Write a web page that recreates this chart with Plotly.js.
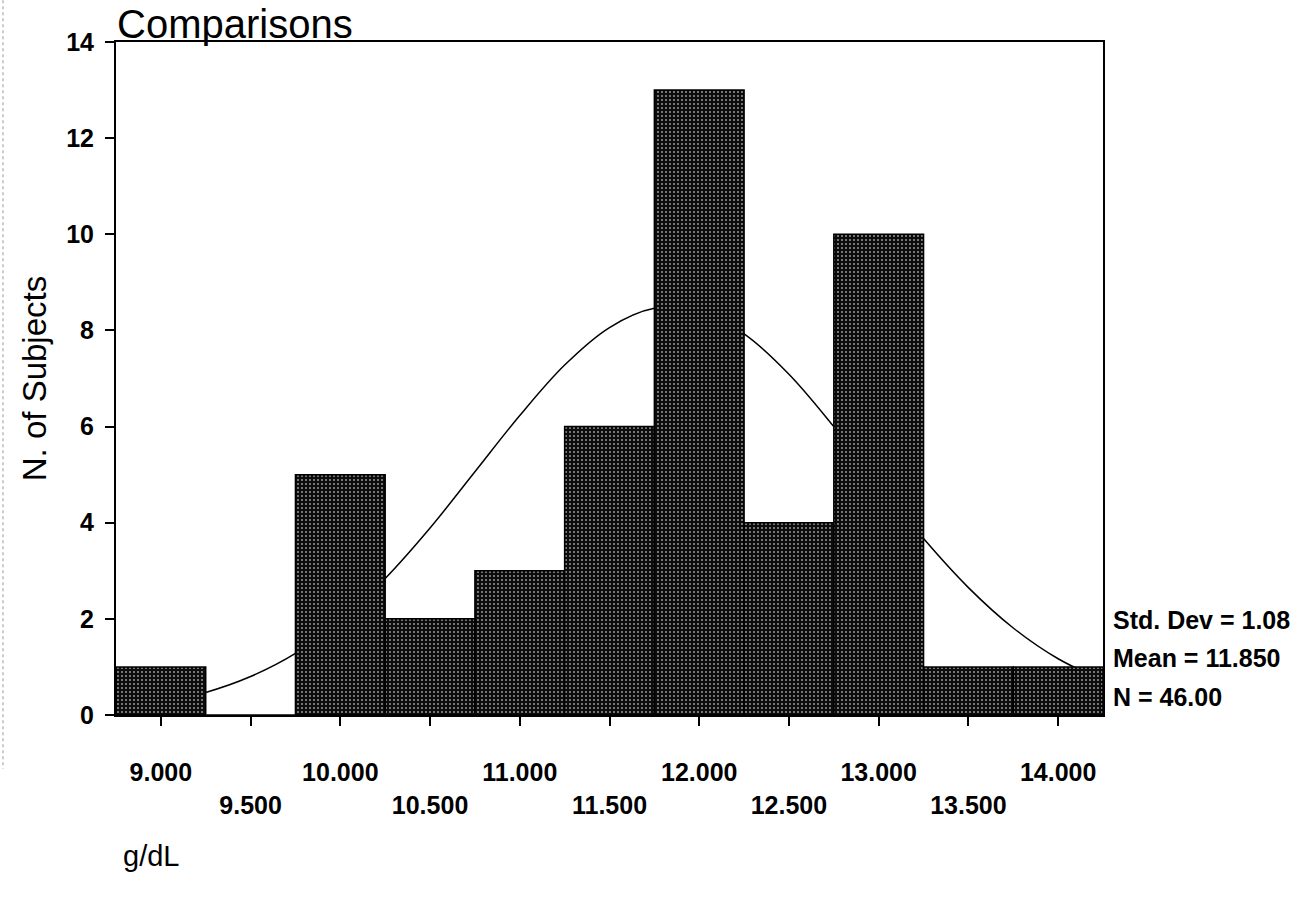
<!DOCTYPE html>
<html>
<head>
<meta charset="utf-8">
<script src="https://cdn.plot.ly/plotly-3.0.1.min.js"></script>
<style>
  html, body { margin: 0; padding: 0; background: #fff; }
  #chart { width: 1298px; height: 912px; }
</style>
</head>
<body>
<div id="chart"></div>
<script>
// Haemoglobin histogram (bin width 0.500 g/dL) with fitted normal curve
const binCenters = [9.0, 9.5, 10.0, 10.5, 11.0, 11.5, 12.0, 12.5, 13.0, 13.5, 14.0];
const subjectCounts = [1, 0, 5, 2, 3, 6, 13, 4, 10, 1, 1];
const binWidth = 0.5;

// Normal curve heights (expected subjects per bin)
const curveX = [8.75, 9.0, 9.25, 9.5, 9.75, 10.0, 10.25, 10.5, 10.75, 11.0, 11.25, 11.5,
                11.75, 12.0, 12.25, 12.5, 12.75, 13.0, 13.25, 13.5, 13.75, 14.0, 14.25];
const curveY = [0.14, 0.26, 0.47, 0.80, 1.28, 1.96, 2.84, 3.89, 5.06, 6.23, 7.28, 8.06,
                8.46, 8.42, 7.93, 7.09, 6.00, 4.82, 3.67, 2.65, 1.81, 1.17, 0.72];

const tickValues = [9.0, 9.5, 10.0, 10.5, 11.0, 11.5, 12.0, 12.5, 13.0, 13.5, 14.0];
const tickLabels = ['9.000', '9.500', '10.000', '10.500', '11.000', '11.500',
                    '12.000', '12.500', '13.000', '13.500', '14.000'];

const stdDev = '1.08';
const meanValue = '11.850';
const nValue = '46.00';

const chartTitle = 'Comparisons';
const yTitle = 'N. of Subjects';
const unitLabel = 'g/dL';

const FONT = '"Liberation Sans", Arial, Helvetica, sans-serif';
const xRange = [8.75, 14.25];
const yRange = [0, 14];

// alternate labels between two rows
const stagger = tickLabels.map((t, i) => (i % 2 === 0 ? t : '<br>' + t));

const curve = {
  type: 'scatter',
  mode: 'lines',
  x: curveX,
  y: curveY,
  line: { color: '#000', width: 1.5, shape: 'spline', smoothing: 1 },
  hoverinfo: 'skip',
  xaxis: 'x',
  yaxis: 'y'
};

// bars live on an overlaying subplot so they cover the curve
const bars = {
  type: 'bar',
  x: binCenters,
  y: subjectCounts,
  width: binCenters.map(() => binWidth),
  marker: {
    color: '#0c0c0c',
    line: { color: '#000', width: 1.5 },
    pattern: { shape: '.', fillmode: 'replace', bgcolor: '#0c0c0c', fgcolor: '#a8a8a8', size: 4, solidity: 0.16 }
  },
  xaxis: 'x2',
  yaxis: 'y2'
};

const tickFont = { family: FONT, size: 25, color: '#000', weight: 'bold' };
const statFont = { family: FONT, size: 25, color: '#000', weight: 'bold' };

const layout = {
  width: 1298,
  height: 912,
  margin: { l: 116, r: 195, t: 42, b: 197, pad: 0 },
  paper_bgcolor: '#fff',
  plot_bgcolor: '#fff',
  showlegend: false,
  bargap: 0,
  xaxis: {
    range: xRange,
    tickmode: 'array',
    tickvals: tickValues,
    ticktext: stagger,
    ticks: 'outside',
    ticklen: 9,
    tickwidth: 2,
    tickcolor: '#000',
    ticklabelstandoff: 25,
    tickfont: tickFont,
    showgrid: false,
    zeroline: false,
    showline: true,
    linecolor: '#000',
    linewidth: 2,
    mirror: true
  },
  yaxis: {
    range: yRange,
    tickmode: 'array',
    tickvals: [0, 2, 4, 6, 8, 10, 12, 14],
    ticks: 'outside',
    ticklen: 9,
    tickwidth: 2,
    tickcolor: '#000',
    ticklabelstandoff: 6,
    tickfont: tickFont,
    showgrid: false,
    zeroline: false,
    showline: true,
    linecolor: '#000',
    linewidth: 2,
    mirror: true,
    title: { text: yTitle, font: { family: FONT, size: 33, color: '#000' }, standoff: 10 }
  },
  xaxis2: { range: xRange, overlaying: 'x', visible: false, showgrid: false, zeroline: false },
  yaxis2: { range: yRange, overlaying: 'y', visible: false, showgrid: false, zeroline: false },
  annotations: [
    {
      text: chartTitle, xref: 'paper', yref: 'paper', x: -0.001, y: 1,
      xanchor: 'left', yanchor: 'bottom', yshift: -6, showarrow: false,
      font: { family: FONT, size: 40, color: '#000' }
    },
    {
      text: 'Std. Dev = ' + stdDev, xref: 'paper', yref: 'y', x: 1.008, y: 1.97,
      xanchor: 'left', yanchor: 'middle', showarrow: false, font: statFont
    },
    {
      text: 'Mean = ' + meanValue, xref: 'paper', yref: 'y', x: 1.008, y: 1.18,
      xanchor: 'left', yanchor: 'middle', showarrow: false, font: statFont
    },
    {
      text: 'N = ' + nValue, xref: 'paper', yref: 'y', x: 1.008, y: 0.37,
      xanchor: 'left', yanchor: 'middle', showarrow: false, font: statFont
    },
    {
      text: unitLabel, xref: 'paper', yref: 'paper', x: 0.005, y: -0.21,
      xanchor: 'left', yanchor: 'middle', showarrow: false,
      font: { family: FONT, size: 29, color: '#000' }
    }
  ],
  shapes: [
    {
      type: 'line', xref: 'paper', yref: 'paper',
      x0: -0.1145, x1: -0.1145, y0: 1.062, y1: -0.08,
      line: { color: '#9a9a9a', width: 1, dash: 'dot' }
    }
  ]
};

Plotly.newPlot('chart', [curve, bars], layout, { displayModeBar: false, staticPlot: true });
</script>
</body>
</html>
